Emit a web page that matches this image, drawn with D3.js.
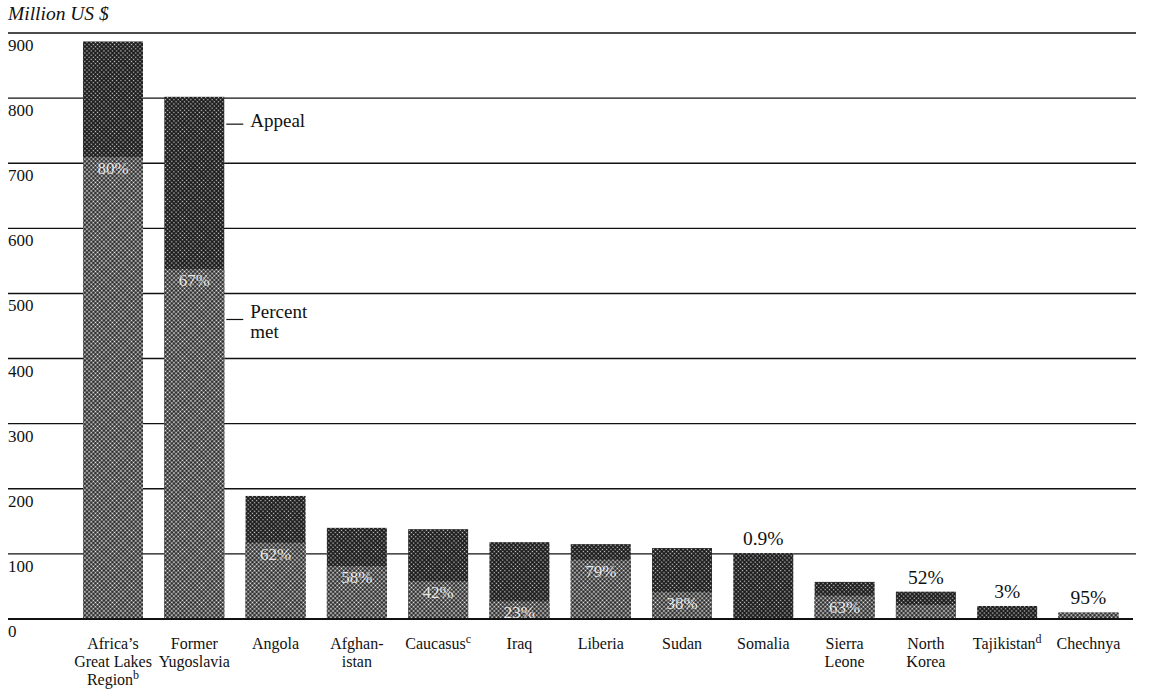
<!doctype html>
<html>
<head>
<meta charset="utf-8">
<style>
body{
  margin:0;
  background-color:#ffffff;
}
.tick-label{
  font-size:17px;
  font-family:"Liberation Serif", "Times New Roman", serif;
  fill:#111;
}
.cat-label{
  font-size:16px;
  font-family:"Liberation Serif", "Times New Roman", serif;
  fill:#111;
}
.pct-in{
  font-size:17px;
  font-family:"Liberation Serif", "Times New Roman", serif;
  fill:#ffffff;
  fill-opacity:0.85;
}
.pct-out{
  font-size:19.5px;
  font-family:"Liberation Serif", "Times New Roman", serif;
  fill:#111;
}
.note{
  font-size:19px;
  font-family:"Liberation Serif", "Times New Roman", serif;
  fill:#111;
}
</style>
<script src="https://d3js.org/d3.v7.min.js"></script>
</head>
<body>
<svg width="1150" height="698"></svg>
<script>
// chart values
var categories = ["Africa's Great Lakes Region", "Former Yugoslavia", "Angola", "Afghanistan",
                  "Caucasus", "Iraq", "Liberia", "Sudan", "Somalia", "Sierra Leone",
                  "North Korea", "Tajikistan", "Chechnya"];
var labelLines = [["Africa\u2019s", "Great Lakes", "Region"], ["Former", "Yugoslavia"], ["Angola"],
                  ["Afghan-", "istan"], ["Caucasus"], ["Iraq"], ["Liberia"], ["Sudan"], ["Somalia"],
                  ["Sierra", "Leone"], ["North", "Korea"], ["Tajikistan"], ["Chechnya"]];
var footnotes = ["b", "", "", "", "c", "", "", "", "", "", "", "d", ""];
var appeal = [887, 802, 189, 140, 138, 118, 115, 109, 101, 57, 42, 20, 10];
var percentMet = [80, 67, 62, 58, 42, 23, 79, 38, 0.9, 63, 52, 3, 95];
var yTicks = [0, 100, 200, 300, 400, 500, 600, 700, 800, 900];

var svg = d3.select("svg");

var x = d3.scaleBand()
    .domain(categories)
    .range([72.35, 1129.1])
    .paddingInner(0.262)
    .paddingOuter(0.131);

var y = d3.scaleLinear()
    .domain([0, 900])
    .range([619, 33]);

// halftone screens
var defs = svg.append("defs");
var pDark = defs.append("pattern")
    .attr("id", "dark")
    .attr("width", 3).attr("height", 3)
    .attr("patternUnits", "userSpaceOnUse")
    .attr("patternTransform", "rotate(45)");
pDark.append("rect").attr("width", 3).attr("height", 3).attr("fill", "#1c1c1c");
pDark.append("circle").attr("cx", 1.5).attr("cy", 1.5).attr("r", 0.75).attr("fill", "#d0d0d0");

var pLight = defs.append("pattern")
    .attr("id", "light")
    .attr("width", 3).attr("height", 3)
    .attr("patternUnits", "userSpaceOnUse")
    .attr("patternTransform", "rotate(45)");
pLight.append("rect").attr("width", 3).attr("height", 3).attr("fill", "#222");
pLight.append("circle").attr("cx", 1.5).attr("cy", 1.5).attr("r", 1.0).attr("fill", "#f0f0f0");

// gridlines
svg.append("g").selectAll("line")
    .data(yTicks.slice(1))
    .enter().append("line")
    .attr("x1", 8).attr("x2", 1136)
    .attr("y1", function(d) { return y(d); })
    .attr("y2", function(d) { return y(d); })
    .attr("stroke", "#111")
    .attr("stroke-width", 1.4);

// tick labels under each gridline
svg.append("g").selectAll("text")
    .data(yTicks)
    .enter().append("text")
    .attr("class", "tick-label")
    .attr("x", 8)
    .attr("y", function(d) { return y(d) + 18; })
    .text(function(d) { return d; });

svg.append("text")
    .attr("class", "tick-label")
    .attr("x", 8).attr("y", 20)
    .style("font-style", "italic")
    .style("font-size", "19.5px")
    .text("Million US $");

var rows = categories.map(function(c, i) {
  return {name: c, appeal: appeal[i], pct: percentMet[i], met: appeal[i] * percentMet[i] / 100};
});

var bars = svg.append("g").selectAll("g")
    .data(rows)
    .enter().append("g");

bars.append("rect")
    .attr("x", function(d) { return x(d.name); })
    .attr("width", x.bandwidth())
    .attr("y", function(d) { return y(d.appeal); })
    .attr("height", function(d) { return y(0) - y(d.appeal); })
    .attr("fill", "url(#dark)");

bars.append("rect")
    .attr("x", function(d) { return x(d.name); })
    .attr("width", x.bandwidth())
    .attr("y", function(d) { return y(d.met); })
    .attr("height", function(d) { return y(0) - y(d.met); })
    .attr("fill", "url(#light)");

// baseline
svg.append("line")
    .attr("x1", 8).attr("x2", 1133)
    .attr("y1", y(0)).attr("y2", y(0))
    .attr("stroke", "#111")
    .attr("stroke-width", 2.2);

function pctText(d) {
  return d.pct + "%";
}
// short bars or tiny shares get their label above the bar
function outside(d) { return d.appeal < 50 || d.pct < 5; }

bars.filter(function(d) { return !outside(d); })
  .append("text")
    .attr("class", "pct-in")
    .attr("text-anchor", "middle")
    .attr("x", function(d) { return x(d.name) + x.bandwidth() / 2; })
    .attr("y", function(d) { return y(d.met) + 17; })
    .text(pctText);

bars.filter(outside)
  .append("text")
    .attr("class", "pct-out")
    .attr("text-anchor", "middle")
    .attr("x", function(d) { return x(d.name) + x.bandwidth() / 2; })
    .attr("y", function(d) { return y(d.appeal) - 8; })
    .text(pctText);

// category labels
var cat = svg.append("g").selectAll("text")
    .data(categories)
    .enter().append("text")
    .attr("class", "cat-label")
    .attr("text-anchor", "middle")
    .attr("transform", function(d) { return "translate(" + (x(d) + x.bandwidth() / 2) + ",0)"; });

cat.each(function(d, i) {
  var t = d3.select(this);
  labelLines[i].forEach(function(line, j) {
    t.append("tspan").attr("x", 0).attr("y", 649 + j * 18).text(line);
    if (j == labelLines[i].length - 1 && footnotes[i]) {
      t.append("tspan")
        .attr("dy", -6)
        .style("font-size", "12px")
        .text(footnotes[i]);
    }
  });
});

// key labels on the Former Yugoslavia bar
var kx = x(categories[1]) + x.bandwidth();
svg.append("line")
    .attr("x1", kx + 2).attr("x2", kx + 19)
    .attr("y1", y(760)).attr("y2", y(760))
    .attr("stroke", "#111").attr("stroke-width", 1.2);
svg.append("text")
    .attr("class", "note")
    .attr("x", kx + 26).attr("y", y(760) + 3)
    .text("Appeal");

svg.append("line")
    .attr("x1", kx + 2).attr("x2", kx + 19)
    .attr("y1", y(460)).attr("y2", y(460))
    .attr("stroke", "#111").attr("stroke-width", 1.2);
svg.append("text")
    .attr("class", "note")
    .attr("x", kx + 26).attr("y", y(460) - 1)
    .text("Percent");
svg.append("text")
    .attr("class", "note")
    .attr("x", kx + 26).attr("y", y(460) + 19)
    .text("met");
</script>
</body>
</html>
